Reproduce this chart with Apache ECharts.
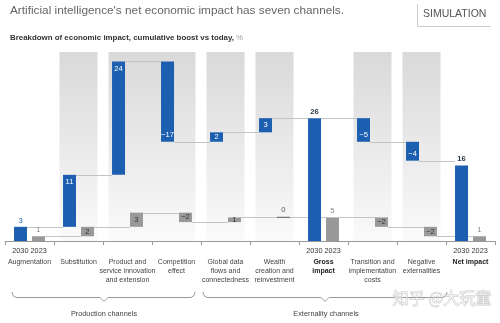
<!DOCTYPE html>
<html>
<head>
<meta charset="utf-8">
<script src="https://cdn.jsdelivr.net/npm/echarts@6/dist/echarts.min.js"></script>
<style>
  html, body { margin: 0; padding: 0; background: #fff; }
  #chart { width: 500px; height: 323px; }
</style>
</head>
<body>
<div id="chart"></div>
<script>
// ---------- data ----------
const categories = ['Augmentation', 'Substitution', 'Product and\nservice innovation\nand extension',
  'Competition\neffect', 'Global data\nflows and\nconnectedness', 'Wealth\ncreation and\nreinvestment',
  'Gross\nimpact', 'Transition and\nimplementation\ncosts', 'Negative\nexternalities', 'Net impact'];
const impact2030 = [3, 11, 24, -17, 2, 3, 26, -5, -4, 16];
const impact2023 = [1, 2, 3, -2, 1, 0, 5, -2, -2, 1];
const totalFlags = [false, false, false, false, false, false, true, false, false, true];
const yearLabels = ['2030 2023', '', '', '', '', '', '2030 2023', '', '', '2030 2023'];
const boldCategories = [6, 9];
const shadedSpans = [[1, 1], [2, 3], [4, 4], [5, 5], [7, 7], [8, 8]];
const groupLabels = ['Production channels', 'Externality channels'];
const titleText = "Artificial intelligence's net economic impact has seven channels.";
const subtitleText = 'Breakdown of economic impact, cumulative boost vs today, ';

// ---------- helpers ----------
const FONT = '"Liberation Sans", Arial, Helvetica, sans-serif';
const BLUE = '#1c5fb0';
const GREY = '#999999';
const fmt = v => (v < 0 ? '\u2212' + Math.abs(v) : String(v));

function waterfall(vals) {
  let run = 0;
  const base = [], height = [], level = [];
  vals.forEach((v, i) => {
    if (totalFlags[i]) {
      base.push(0); height.push(v); run = v;
    } else {
      const end = run + v;
      base.push(Math.min(run, end)); height.push(Math.abs(v)); run = end;
    }
    level.push(run);
  });
  return { base, height, level };
}
const wf30 = waterfall(impact2030);
const wf23 = waterfall(impact2023);

function blueData() {
  return wf30.height.map((h, i) => {
    const v = impact2030[i];
    let label;
    if (totalFlags[i] || i === 0) {
      label = { position: 'top', distance: 2, color: i === 0 ? BLUE : '#2b3a4a', fontWeight: i === 0 ? 'normal' : 'bold' };
    } else if (Math.abs(v) <= 3) {
      label = { position: 'inside', color: '#fff' };
    } else if (v > 0) {
      label = { position: 'insideTop', distance: 3, color: '#fff' };
    } else {
      label = { position: 'insideBottom', distance: 3, color: '#fff' };
    }
    return { value: h, label };
  });
}
function greyData() {
  return wf23.height.map((h, i) => {
    const v = impact2023[i];
    let label, itemStyle;
    if (totalFlags[i] || i === 0) {
      label = { position: 'top', distance: 2, color: '#888' };
    } else if (v === 0) {
      label = { position: 'top', distance: 3, color: '#555' };
      itemStyle = { borderWidth: 1.2, borderColor: '#777' };
    } else {
      label = { position: 'inside', color: '#333' };
    }
    return itemStyle ? { value: h, label, itemStyle } : { value: h, label };
  });
}

function connectorSeries(wf, off) {
  return {
    type: 'custom',
    xAxisIndex: 0,
    z: 1,
    silent: true,
    data: wf.level.slice(0, wf.level.length - 1).map((l, i) => [i, l]),
    renderItem: (params, api) => {
      const a = api.coord([api.value(0), api.value(1)]);
      const b = api.coord([api.value(0) + 1, api.value(1)]);
      const y = Math.round(a[1]) + 0.5;
      return {
        type: 'line',
        shape: { x1: a[0] + off + 6.5, y1: y, x2: b[0] + off - 6.5, y2: y },
        style: { stroke: '#c4c4c4', lineWidth: 1 }
      };
    }
  };
}

function bracketPoints(x0, x1, xm) {
  const y = 297.5;
  return [[x0, 292], [x0 + 1, 295.5], [x0 + 4, 297.5], [xm - 4, y], [xm, 301.5], [xm + 4, y],
    [x1 - 4, y], [x1 - 1, 295.5], [x1, 292]];
}

const chart = echarts.init(document.getElementById('chart'), null, { renderer: 'canvas' });

const option = {
  animation: false,
  textStyle: { fontFamily: FONT },
  grid: { left: 5, right: 5, top: 52, bottom: 82, containLabel: false },
  xAxis: [
    {
      type: 'category',
      data: categories,
      position: 'bottom',
      axisLine: { lineStyle: { color: '#999', width: 1 } },
      axisTick: { show: true, length: 4, lineStyle: { color: '#999' } },
      axisLabel: {
        interval: 0, margin: 17, fontSize: 7, lineHeight: 9, color: '#444', fontFamily: FONT,
        formatter: (val, idx) => boldCategories.includes(idx)
          ? val.split('\n').map(s => '{b|' + s + '}').join('\n') : val,
        rich: { b: { fontWeight: 'bold', fontSize: 7, lineHeight: 9, color: '#222', fontFamily: FONT } }
      }
    },
    {
      type: 'category',
      data: categories,
      position: 'bottom',
      axisLine: { show: false },
      axisTick: { show: false },
      axisLabel: {
        interval: 0, margin: 6, fontSize: 7.3, color: '#333', fontFamily: FONT,
        formatter: (val, idx) => yearLabels[idx]
      }
    }
  ],
  yAxis: { type: 'value', min: 0, max: 40, show: false, splitLine: { show: false } },
  series: [
    {
      type: 'custom',
      xAxisIndex: 0,
      z: 0,
      silent: true,
      data: shadedSpans,
      renderItem: (params, api) => {
        const s = api.coord([api.value(0), 0]);
        const e = api.coord([api.value(1), 0]);
        const cs = params.coordSys;
        const half = 19;
        return {
          type: 'rect',
          shape: { x: s[0] - half, y: cs.y, width: e[0] - s[0] + 2 * half, height: cs.height },
          style: {
            fill: new echarts.graphic.LinearGradient(0, 0, 0, 1, [
              { offset: 0, color: '#d9d9d9' },
              { offset: 1, color: '#fafafa' }
            ])
          }
        };
      }
    },
    connectorSeries(wf30, -9),
    connectorSeries(wf23, 9),
    {
      name: 'base2030', type: 'bar', stack: 'b', barWidth: 13, barGap: '38%', z: 2,
      itemStyle: { color: 'transparent' }, silent: true, data: wf30.base
    },
    {
      name: '2030', type: 'bar', stack: 'b', barWidth: 13, barGap: '38%', z: 2,
      itemStyle: { color: BLUE },
      label: { show: true, fontSize: 7.6, fontFamily: FONT, formatter: p => fmt(impact2030[p.dataIndex]) },
      data: blueData()
    },
    {
      name: 'base2023', type: 'bar', stack: 'g', barWidth: 13, barGap: '38%', z: 2,
      itemStyle: { color: 'transparent' }, silent: true, data: wf23.base
    },
    {
      name: '2023', type: 'bar', stack: 'g', barWidth: 13, barGap: '38%', z: 2,
      itemStyle: { color: GREY },
      label: { show: true, fontSize: 7.6, fontFamily: FONT, formatter: p => fmt(impact2023[p.dataIndex]) },
      data: greyData()
    }
  ],
  graphic: [
    { type: 'text', left: 10, top: 5, style: { text: titleText, fontSize: 11.8, fill: '#666', fontFamily: FONT } },
    {
      type: 'text', left: 10, top: 34,
      style: {
        text: '{a|' + subtitleText + '}{p|%}', fontFamily: FONT,
        rich: {
          a: { fontSize: 7.9, fontWeight: 'bold', fill: '#333', fontFamily: FONT },
          p: { fontSize: 7.9, fill: '#999', fontFamily: FONT }
        }
      }
    },
    { type: 'text', left: 423, top: 9, style: { text: 'SIMULATION', fontSize: 10.5, fill: '#555', fontFamily: FONT } },
    { type: 'polyline', shape: { points: [[417.5, 4], [417.5, 26.5], [491, 26.5]] }, style: { stroke: '#ccc', lineWidth: 1, fill: null } },
    { type: 'polyline', shape: { points: bracketPoints(12, 195, 104) }, style: { stroke: '#999', lineWidth: 1, fill: null } },
    { type: 'polyline', shape: { points: bracketPoints(203, 447, 325) }, style: { stroke: '#999', lineWidth: 1, fill: null } },
    { type: 'text', x: 104, y: 314, style: { text: groupLabels[0], fontSize: 7.3, fill: '#444', fontFamily: FONT, align: 'center', verticalAlign: 'middle' } },
    { type: 'text', x: 326, y: 314, style: { text: groupLabels[1], fontSize: 7.3, fill: '#444', fontFamily: FONT, align: 'center', verticalAlign: 'middle' } },
    { type: 'text', x: 442, y: 298, z: 100, style: { text: '知乎 @大玩童', fontSize: 16, fill: 'rgba(255,255,255,0.6)', stroke: 'rgba(150,150,150,0.55)', lineWidth: 0.8, fontFamily: '"Noto Sans CJK SC", sans-serif', align: 'center', verticalAlign: 'middle' } }
  ]
};
chart.setOption(option);
</script>
</body>
</html>
